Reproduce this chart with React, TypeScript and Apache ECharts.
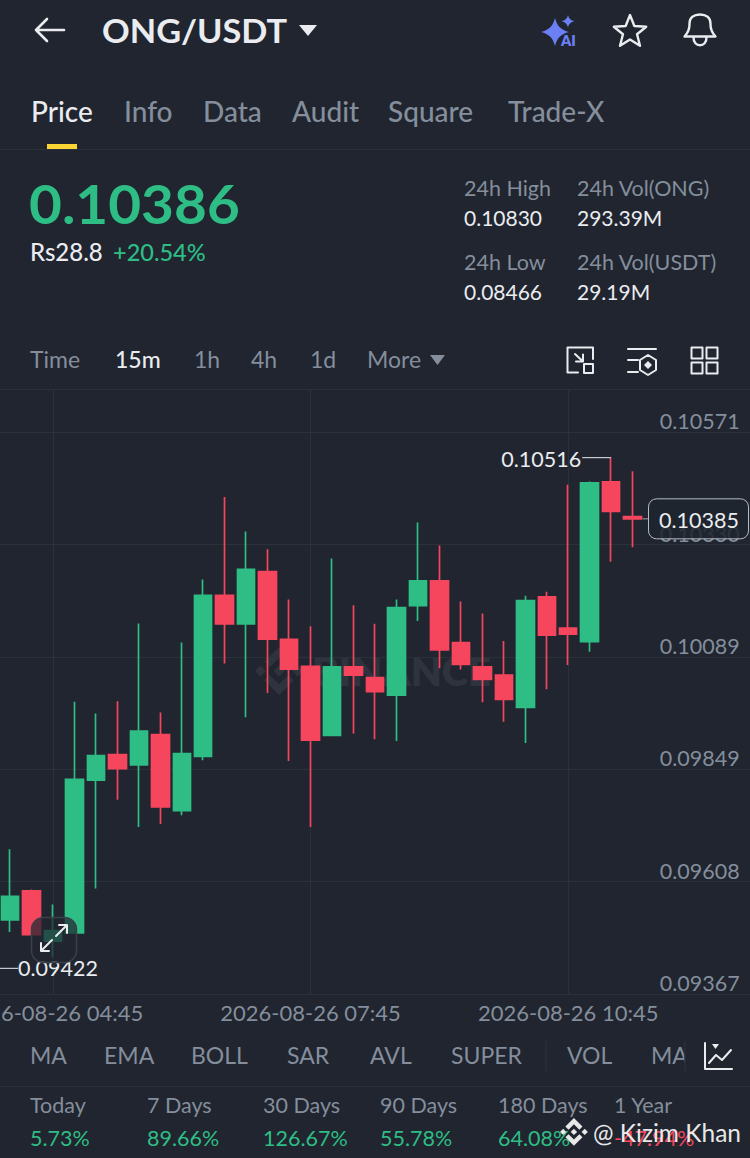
import React, { useEffect, useRef } from "react";
import * as echarts from "echarts";

const FONT = "Lato";
const BG = "#20252F";
const WHITE = "#EAECEF";
const GRAY = "#848E9C";
const GREEN = "#2EBD85";
const RED = "#F6465D";
const LINE = "#2B3139";

const times = [
  "2026-08-26 04:15", "2026-08-26 04:30", "2026-08-26 04:45", "2026-08-26 05:00", "2026-08-26 05:15",
  "2026-08-26 05:30", "2026-08-26 05:45", "2026-08-26 06:00", "2026-08-26 06:15", "2026-08-26 06:30",
  "2026-08-26 06:45", "2026-08-26 07:00", "2026-08-26 07:15", "2026-08-26 07:30", "2026-08-26 07:45",
  "2026-08-26 08:00", "2026-08-26 08:15", "2026-08-26 08:30", "2026-08-26 08:45", "2026-08-26 09:00",
  "2026-08-26 09:15", "2026-08-26 09:30", "2026-08-26 09:45", "2026-08-26 10:00", "2026-08-26 10:15",
  "2026-08-26 10:30", "2026-08-26 10:45", "2026-08-26 11:00", "2026-08-26 11:15", "2026-08-26 11:30",
  "2026-08-26 11:45", "2026-08-26 12:00", "2026-08-26 12:15", "2026-08-26 12:30", "2026-08-26 12:45",
];
const labelledTimes = ["2026-08-26 04:45", "2026-08-26 07:45", "2026-08-26 10:45"];

const opens = [
  0.09526, 0.09588, 0.0948, 0.09498, 0.09825, 0.0988, 0.09858, 0.09923, 0.0976, 0.09876,
  0.10221, 0.1016, 0.10272, 0.10127, 0.10069, 0.09921, 0.10068, 0.10045, 0.10007, 0.10199,
  0.10252, 0.1012, 0.10068, 0.1005, 0.09981, 0.10218, 0.10151, 0.10122, 0.10464, 0.1039,
];
const closes = [
  0.09576, 0.09494, 0.09503, 0.09827, 0.09878, 0.0985, 0.0993, 0.09768, 0.09882, 0.10221,
  0.1016, 0.10277, 0.10127, 0.10063, 0.09911, 0.10068, 0.1005, 0.10015, 0.10195, 0.10252,
  0.10104, 0.10073, 0.10041, 0.09998, 0.1021, 0.10136, 0.10138, 0.10462, 0.10401, 0.10385,
];
const lows = [
  0.095, 0.09494, 0.09445, 0.09498, 0.09593, 0.09783, 0.09725, 0.09731, 0.0975, 0.09868,
  0.10075, 0.0996, 0.10012, 0.09866, 0.09725, 0.09921, 0.09925, 0.09913, 0.09909, 0.10166,
  0.10065, 0.10062, 0.09992, 0.0995, 0.09905, 0.1002, 0.10072, 0.101, 0.10293, 0.10324,
];
const highs = [
  0.09677, 0.09591, 0.09559, 0.09993, 0.09968, 0.09994, 0.10161, 0.0997, 0.1012, 0.10255,
  0.10432, 0.10358, 0.1032, 0.10212, 0.10155, 0.103, 0.102, 0.1016, 0.10212, 0.10377,
  0.10328, 0.10208, 0.10182, 0.10123, 0.1022, 0.10229, 0.10458, 0.10465, 0.10516, 0.10487,
];
const yTicks = [0.09367, 0.09608, 0.09849, 0.10089, 0.1033, 0.10571];
const yMin = 0.09367;
const yMax = 0.10661;

const visibleHigh = { index: 28, value: 0.10516 };
const visibleLow = { index: 0, value: 0.09422 };
const lastPrice = { index: 29, value: 0.10385 };

const tabs = ["Price", "Info", "Data", "Audit", "Square", "Trade-X"];
const intervals = ["Time", "15m", "1h", "4h", "1d", "More"];
const indicators = ["MA", "EMA", "BOLL", "SAR", "AVL", "SUPER", "VOL", "MA"];
const periods = ["Today", "7 Days", "30 Days", "90 Days", "180 Days", "1 Year"];
const periodChanges = ["5.73%", "89.66%", "126.67%", "55.78%", "64.08%", "-47.94%"];

const tabX = [31, 124, 203, 292, 388, 508];
const intervalX = [30, 115, 194, 251, 310, 367];
const indicatorX = [30, 104, 191, 287, 370, 451, 567, 651];
const periodX = [30, 147, 263, 380, 498, 614];

const LOGO =
  "M38.73 53.2l24.59-24.58 24.6 24.6 14.3-14.31L63.32 0 24.43 38.9zM0 63.31l14.3-14.31 14.31 14.31-14.31 14.3zM38.73 73.41l24.59 24.59 24.6-24.6 14.31 14.29-38.9 38.91-38.91-38.88-.02-.02zM98.03 63.31l14.3-14.31 14.31 14.3-14.31 14.32zM77.83 63.3L63.32 48.78 52.59 59.51l-1.24 1.23-2.54 2.54 14.51 14.5 14.51-14.47z";

const SHAPES: Record<string, string> = {
  wmLogo: LOGO,
  bell: "M684.5 36.5C690 31 689.5 27 689.5 23.5C689.5 17.5 694 14.5 700 14.5C706 14.5 710.5 17.5 710.5 23.5C710.5 27 710 31 715.5 36.5ZM693.5 37C693 48 707 48 706.5 37",
  aiBig: "M555 18C557 26 561 30 569 32C561 34 557 38 555 46C553 38 549 34 541 32C549 30 553 26 555 18Z",
  aiSmall: "M568 15C569 19 571 20.5 574.5 21C571 22 569 23.5 568 27.5C567 23.5 565 22 561.5 21C565 20.5 567 19 568 15Z",
  back: "M36 30H64M47 19L36 30L47 41",
  screen: "M578 372.5H567.5V347.5H593V359M584 364H593V373H584ZM575 354L583 361.5M583 354.5V361.5H576",
  style: "M628 349H656M628 360H638M628 372H638M648 355L656 360V370L648 375L640 370V360Z",
  styleDot: "M648 361L652 365L648 369L644 365Z",
  layout: "M691.5 347.5H702.5V358.5H691.5ZM706.5 347.5H717.5V358.5H706.5ZM691.5 362.5H702.5V373.5H691.5ZM706.5 362.5H717.5V373.5H706.5Z",
  chartIcon: "M705 1043V1069H732M709 1063L716 1055L722 1060L731 1050",
  expand: "M56 936L67 925M59 925H67V933M52 940L41 951M41 943V951H49",
};
Object.entries(SHAPES).forEach(([name, d]) => {
  echarts.graphic.registerShape(name, echarts.graphic.extendPath(d, {}));
});

function txt(text: string, x: number, y: number, size: number, fill: string, weight: number | string = 400, align = "left", z = 1, scaleX = 1) {
  return {
    type: "text",
    x,
    y,
    z,
    scaleX,
    silent: true,
    style: { text, fill, fontSize: size, fontFamily: FONT, fontWeight: weight, align, verticalAlign: "middle" },
  };
}
function stroke(name: string, color: string, width = 2.2, z = 1) {
  return { type: name, x: 0, y: 0, z, silent: true, style: { fill: "none", stroke: color, lineWidth: width, lineJoin: "round", lineCap: "round" } };
}
function fillShape(name: string, color: string, z = 1) {
  return { type: name, x: 0, y: 0, z, silent: true, style: { fill: color } };
}
function hline(x1: number, x2: number, y: number, color = LINE) {
  return { type: "line", z: 1, silent: true, shape: { x1, x2, y1: y, y2: y }, style: { stroke: color, lineWidth: 1 } };
}
function tri(points: number[][], color: string, z = 1) {
  return { type: "polygon", z, silent: true, shape: { points }, style: { fill: color } };
}
function starPoints(cx: number, cy: number, r: number, inner: number) {
  const pts: number[][] = [];
  for (let k = 0; k < 10; k++) {
    const a = -Math.PI / 2 + (k * Math.PI) / 5;
    const rad = k % 2 === 0 ? r : inner;
    pts.push([cx + rad * Math.cos(a), cy + rad * Math.sin(a)]);
  }
  return pts;
}

const chromeElements: any[] = [
  stroke("back", WHITE, 2.6),
  txt("ONG/USDT", 102, 30, 33, WHITE, 700, "left", 1, 1.04),
  tri([[299, 25], [317, 25], [308, 36]], WHITE),
  fillShape("aiBig", "#6C80F5"),
  fillShape("aiSmall", "#6C80F5"),
  txt("AI", 561, 40, 14.5, "#6C80F5", 800),
  { type: "polygon", z: 1, silent: true, shape: { points: starPoints(630, 32, 17, 7.4) }, style: { fill: "none", stroke: WHITE, lineWidth: 2.4, lineJoin: "round" } },
  stroke("bell", WHITE, 2.4),

  ...tabs.map((t, i) => txt(t, tabX[i], 111, 28, i === 0 ? WHITE : GRAY, 500)),
  { type: "rect", z: 1, silent: true, shape: { x: 47, y: 144, width: 30, height: 5 }, style: { fill: "#FCD535" } },
  hline(0, 750, 149.5),

  txt("0.10386", 29, 204, 53, GREEN, 700, "left", 1, 1.07),
  txt("Rs28.8", 30, 251.5, 24, WHITE, 500),
  txt("+20.54%", 113, 251.5, 23.5, GREEN, 500),
  txt("24h High", 464, 188, 21.5, GRAY),
  txt("0.10830", 464, 217, 21, WHITE),
  txt("24h Vol(ONG)", 577, 188, 21.5, GRAY),
  txt("293.39M", 577, 217, 21, WHITE),
  txt("24h Low", 464, 262, 21.5, GRAY),
  txt("0.08466", 464, 291, 21, WHITE),
  txt("24h Vol(USDT)", 577, 262, 21.5, GRAY),
  txt("29.19M", 577, 291, 21, WHITE),

  ...intervals.map((t, i) => txt(t, intervalX[i], 359, 23, i === 1 ? WHITE : GRAY, i === 1 ? 500 : 400)),
  tri([[430, 355], [445, 355], [437.5, 365]], GRAY),
  stroke("screen", WHITE, 2),
  stroke("style", WHITE, 2),
  fillShape("styleDot", WHITE),
  stroke("layout", WHITE, 2),
  hline(0, 750, 389.5),

  // watermark behind the candles
  { type: "wmLogo", x: 255, y: 647, scaleX: 0.38, scaleY: 0.38, z: 0, silent: true, style: { fill: "#2E333E" } },
  { type: "text", x: 312, y: 671, z: 0, silent: true, style: { text: "BINANCE", fill: "#2E333E", fontSize: 40, fontFamily: FONT, fontWeight: 800, align: "left", verticalAlign: "middle" } },

  // expand button
  { type: "rect", z: 50, silent: true, shape: { x: 31.5, y: 917.5, width: 45, height: 45, r: 12 }, style: { fill: "rgba(32,38,48,0.72)", stroke: "#3A404A", lineWidth: 1.5 } },
  stroke("expand", WHITE, 2, 51),

  ...indicators.map((t, i) => txt(t, indicatorX[i], 1055, 23, GRAY, 400)),
  { type: "rect", z: 2, silent: true, shape: { x: 685, y: 1040, width: 15, height: 32 }, style: { fill: BG } },
  { type: "line", z: 3, silent: true, shape: { x1: 546, x2: 546, y1: 1041, y2: 1071 }, style: { stroke: LINE, lineWidth: 1.5 } },
  { type: "line", z: 3, silent: true, shape: { x1: 685, x2: 685, y1: 1041, y2: 1071 }, style: { stroke: LINE, lineWidth: 1.5 } },
  stroke("chartIcon", WHITE, 2),
  tri([[712, 1044], [719, 1044], [715.5, 1049]], WHITE),
  hline(0, 750, 1086.5),

  ...periods.map((t, i) => txt(t, periodX[i], 1105, 21.5, GRAY)),
  ...periodChanges.map((t, i) => txt(t, periodX[i], 1138, 21.5, t.startsWith("-") ? RED : GREEN)),

  { type: "wmLogo", x: 560, y: 1118, scaleX: 0.22, scaleY: 0.22, z: 60, silent: true, style: { fill: "#E8E8E8" } },
  txt("@ Kizim Khan", 593, 1132, 24.5, "#E8E8E8", 400, "left", 60),
];

const annotations = [
  { ...visibleHigh, kind: "high" },
  { ...visibleLow, kind: "low" },
  { ...lastPrice, kind: "last" },
];

function renderAnnotation(params: any, api: any) {
  const a = annotations[params.dataIndex];
  const p = api.coord([a.index, a.value]);
  const text = a.value.toFixed(5);
  if (a.kind === "high") {
    return {
      type: "group",
      children: [
        { type: "line", shape: { x1: p[0] - 29, x2: p[0], y1: p[1], y2: p[1] }, style: { stroke: WHITE, lineWidth: 1 } },
        { type: "text", style: { text, x: p[0] - 30, y: p[1] + 1, align: "right", verticalAlign: "middle", fill: WHITE, fontSize: 21.5, fontFamily: FONT } },
      ],
    };
  }
  if (a.kind === "low") {
    return {
      type: "group",
      children: [
        { type: "line", shape: { x1: 0, x2: 18, y1: p[1], y2: p[1] }, style: { stroke: WHITE, lineWidth: 1 } },
        { type: "text", style: { text, x: 18, y: p[1], align: "left", verticalAlign: "middle", fill: WHITE, fontSize: 21.5, fontFamily: FONT } },
      ],
    };
  }
  return {
    type: "group",
    children: [
      { type: "line", shape: { x1: p[0] + 10, x2: 648, y1: p[1], y2: p[1] }, style: { stroke: "#9AA0A8", lineWidth: 1 } },
      { type: "rect", shape: { x: 648.5, y: p[1] - 20, width: 100, height: 40, r: 8 }, style: { fill: "rgba(32,37,47,0.86)", stroke: "#B7BDC6", lineWidth: 1 } },
      { type: "text", style: { text, x: 659, y: p[1] + 1, align: "left", verticalAlign: "middle", fill: WHITE, fontSize: 21.5, fontFamily: FONT } },
    ],
  };
}

export default function App() {
  const ref = useRef<HTMLDivElement>(null);
  useEffect(() => {
    const chart = echarts.init(ref.current!, null, { renderer: "svg" });
    chart.setOption({
      animation: false,
      backgroundColor: BG,
      textStyle: { fontFamily: FONT },
      grid: { left: -0.735, width: 751.45, top: 390, height: 604, containLabel: false, outerBoundsMode: "none" },
      xAxis: {
        type: "category",
        data: times,
        boundaryGap: true,
        axisLine: { show: true, lineStyle: { color: LINE, width: 1 } },
        axisTick: { show: false },
        axisLabel: {
          interval: (_i: number, v: string) => labelledTimes.includes(v),
          color: GRAY,
          fontSize: 22,
          fontFamily: FONT,
          margin: 7,
        },
        splitLine: {
          show: true,
          alignWithLabel: true,
          interval: (_i: number, v: string) => labelledTimes.includes(v),
          lineStyle: { color: LINE, width: 1 },
        },
      },
      yAxis: {
        type: "value",
        position: "right",
        min: yMin,
        max: yMax,
        scale: true,
        axisLine: { show: false },
        axisTick: { show: false, customValues: yTicks },
        axisLabel: {
          inside: true,
          customValues: yTicks,
          formatter: (v: number) => v.toFixed(5),
          color: GRAY,
          fontSize: 21.5,
          fontFamily: FONT,
          margin: 11,
          verticalAlign: "bottom",
          padding: [0, 0, 0, 0],
          showMinLabel: true,
          showMaxLabel: true,
        },
        splitLine: { show: true, lineStyle: { color: LINE, width: 1 } },
      },
      series: [
        {
          type: "candlestick",
          data: opens.map((o, i) => [o, closes[i], lows[i], highs[i]]),
          barWidth: 18,
          itemStyle: { color: GREEN, color0: RED, borderColor: GREEN, borderColor0: RED, borderWidth: 1.7 },
        },
        {
          type: "custom",
          coordinateSystem: "cartesian2d",
          data: annotations.map((a) => [a.index, a.value]),
          renderItem: renderAnnotation,
          clip: false,
          silent: true,
          z: 10,
        },
      ],
      graphic: { elements: chromeElements },
    });
    return () => chart.dispose();
  }, []);
  return (
    <>
      <style>{`html,body{margin:0;padding:0;background:${BG};overflow:hidden}`}</style>
      <div ref={ref} style={{ position: "absolute", left: 0, top: 0, width: 750, height: 1158 }} />
    </>
  );
}
